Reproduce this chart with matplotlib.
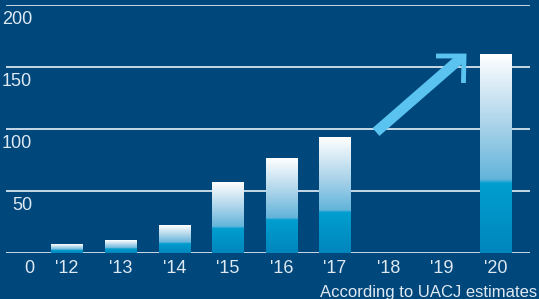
import matplotlib.pyplot as plt
import numpy as np
from matplotlib.colors import LinearSegmentedColormap
from matplotlib.lines import Line2D

years = ["'12", "'13", "'14", "'15", "'16", "'17", "'18", "'19", "'20"]
values = [7, 10, 22, 57, 76, 93, None, None, 160]
y_ticks = [50, 100, 150, 200]

bg = '#00477c'
txt = '#dfe9f2'
grid_c = '#d6e4ef'

plt.rcParams['font.family'] = ['Liberation Sans Narrow', 'Liberation Sans', 'DejaVu Sans']

fig = plt.figure(figsize=(5.39, 2.99), dpi=100, facecolor=bg)
ax = fig.add_axes([6 / 539, 1 - 253 / 299, 524 / 539, 248 / 299])
ax.set_facecolor(bg)
ax.set_xlim(-1.138, 8.638)
ax.set_ylim(0, 200)
for s in ax.spines.values():
    s.set_visible(False)
ax.set_xticks([])
ax.set_yticks([])

# grid lines + y labels just below each line
ax.axhline(0, color=grid_c, lw=1.3, zorder=1)
for v in y_ticks:
    ax.axhline(v, color=grid_c, lw=1.3, zorder=1)
    ax.text(0.05, v - 4.5, str(v), transform=ax.get_yaxis_transform(),
            ha='right', va='top', fontsize=13, color=txt)

cmap = LinearSegmentedColormap.from_list('bar', [
    (0.0, '#0086bd'), (0.35, '#009ecf'), (0.37, '#62b4db'),
    (0.65, '#acd4ea'), (1.0, '#ffffff')])
grad = np.linspace(0, 1, 256).reshape(-1, 1)
w = 0.58
for i, v in enumerate(values):
    if v is None:
        continue
    ax.imshow(grad, cmap=cmap, origin='lower', aspect='auto',
              extent=[i - w / 2, i + w / 2, 0, v], zorder=3, interpolation='bilinear')

# x labels
for i, lab in enumerate(years):
    ax.text(i, -12.5, lab, ha='center', va='center', fontsize=13, color=txt, clip_on=False)
ax.text(-0.71, -12.5, '0', ha='center', va='center', fontsize=13, color=txt, clip_on=False)

fig.text(537 / 539, 1 - 293 / 299, 'According to UACJ estimates', ha='right', va='center',
         fontsize=12, color=txt)

# arrow (figure pixel coords)
acol = '#5bc3f0'
def px(x, y):
    return x / 539, 1 - y / 299
x0, y0 = px(376, 132)
x1, y1 = px(461, 58)
fig.add_artist(Line2D([x0, x1], [y0, y1], color=acol, lw=7.5, solid_capstyle='butt'))
hx, hy = px(464, 56)
ax_, ay_ = px(436, 56)
bx_, by_ = px(462, 83)
fig.add_artist(Line2D([ax_, hx, hx - 0.001], [ay_, hy, by_], color=acol, lw=3.5,
                      solid_joinstyle='miter', solid_capstyle='butt'))

fig.savefig('out.png', dpi=100, facecolor=bg)
